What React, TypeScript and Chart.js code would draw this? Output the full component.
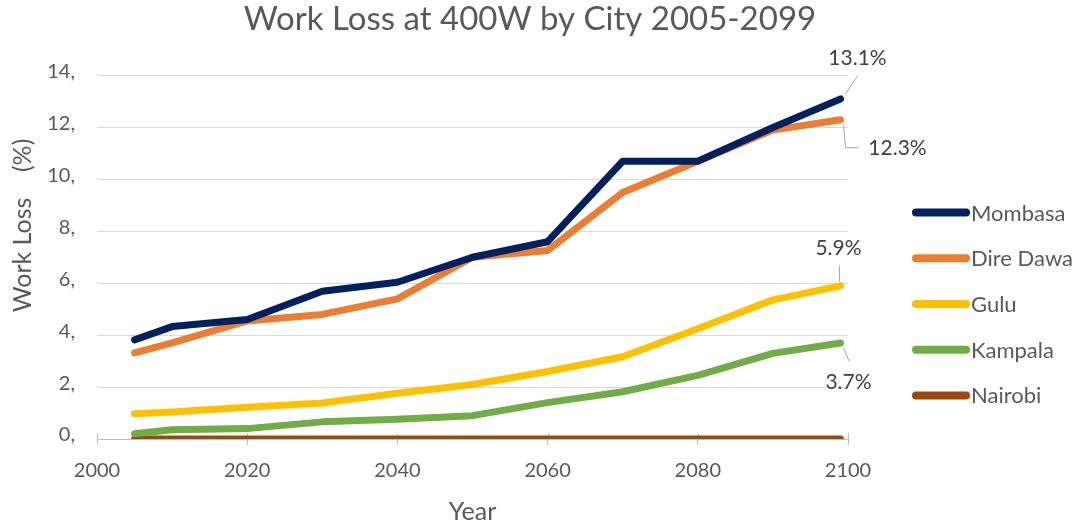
import { useEffect, useRef } from "react";
import { Chart, registerables } from "chart.js";

Chart.register(...registerables);

const years = [2005, 2010, 2020, 2030, 2040, 2050, 2060, 2070, 2080, 2090, 2099];
const mombasa = [3.82, 4.33, 4.6, 5.69, 6.04, 7.0, 7.6, 10.7, 10.7, 12.0, 13.1];
const direDawa = [3.32, 3.7, 4.55, 4.8, 5.4, 7.0, 7.26, 9.5, 10.7, 11.9, 12.3];
const gulu = [0.97, 1.04, 1.22, 1.39, 1.76, 2.1, 2.6, 3.17, 4.25, 5.36, 5.9];
const kampala = [0.2, 0.36, 0.4, 0.66, 0.76, 0.9, 1.4, 1.82, 2.45, 3.3, 3.7];
const nairobi = [0, 0, 0, 0, 0, 0, 0, 0, 0, 0, 0];

const cityNames = ["Mombasa", "Dire Dawa", "Gulu", "Kampala", "Nairobi"];
const cityValues = [mombasa, direDawa, gulu, kampala, nairobi];
const cityColors = ["#002060", "#ED7D31", "#FFC000", "#70AD47", "#9E480E"];
const showEndLabel = [true, true, true, true, false];

const FONT = "Lato, 'Open Sans', sans-serif";
const TEXT = "#595959";

// label style offsets (text center dx/dy, leader polyline) relative to last point
const endLabelStyle = [
  { tx: 17, ty: -41, line: [[5, -5], [17, -23]] },
  { tx: 57, ty: 29, line: [[3, 5], [5, 28], [18, 28]] },
  { tx: -2, ty: -38, line: [[-1, -4], [-1, -20]] },
  { tx: 8, ty: 39, line: [[3, 5], [9, 19]] },
  null,
];

const endLabels = {
  id: "endLabels",
  afterDatasetsDraw(chart: any) {
    const ctx = chart.ctx;
    ctx.save();
    chart.data.datasets.forEach((ds: any, i: number) => {
      if (!showEndLabel[i]) return;
      const st = endLabelStyle[i];
      if (!st) return;
      const meta = chart.getDatasetMeta(i);
      const pt = meta.data[meta.data.length - 1];
      const x = pt.x;
      const y = pt.y;
      ctx.strokeStyle = "#a6a6a6";
      ctx.lineWidth = 1;
      ctx.beginPath();
      st.line.forEach((p: number[], k: number) => {
        if (k === 0) ctx.moveTo(x + p[0], y + p[1]);
        else ctx.lineTo(x + p[0], y + p[1]);
      });
      ctx.stroke();
      const v = ds.data[ds.data.length - 1].y;
      ctx.fillStyle = "#404040";
      ctx.font = `21px ${FONT}`;
      ctx.textAlign = "center";
      ctx.textBaseline = "middle";
      ctx.fillText(v.toFixed(1) + "%", x + st.tx, y + st.ty);
    });
    ctx.restore();
  },
};

const sideLegend = {
  id: "sideLegend",
  afterDraw(chart: any) {
    const ctx = chart.ctx;
    const area = chart.chartArea;
    const x0 = area.right + 68;
    const x1 = area.right + 118;
    const yStart = area.top + 137;
    const step = 45.7;
    ctx.save();
    chart.data.datasets.forEach((ds: any, i: number) => {
      const y = yStart + i * step;
      ctx.strokeStyle = ds.borderColor;
      ctx.lineWidth = 8;
      ctx.lineCap = "round";
      ctx.beginPath();
      ctx.moveTo(x0, y);
      ctx.lineTo(x1, y);
      ctx.stroke();
      ctx.fillStyle = TEXT;
      ctx.font = `22px ${FONT}`;
      ctx.textAlign = "left";
      ctx.textBaseline = "middle";
      ctx.fillText(ds.label, x1 + 5, y + 1);
    });
    ctx.restore();
  },
};

const crossTicks = {
  id: "crossTicks",
  beforeDatasetsDraw(chart: any) {
    const ctx = chart.ctx;
    const xs = chart.scales.x;
    const bottom = chart.chartArea.bottom;
    ctx.save();
    ctx.strokeStyle = "#bfbfbf";
    ctx.lineWidth = 1;
    xs.ticks.forEach((t: any) => {
      const px = Math.round(xs.getPixelForValue(t.value)) + 0.5;
      ctx.beginPath();
      ctx.moveTo(px, bottom - 6);
      ctx.lineTo(px, bottom);
      ctx.stroke();
    });
    ctx.restore();
  },
};

const yTitleLead = "\u00a0".repeat(10);

export default function App() {
  const ref = useRef<HTMLCanvasElement | null>(null);
  useEffect(() => {
    document.body.style.margin = "0";
    const canvas = ref.current;
    if (!canvas) return;
    const chart = new Chart(canvas, {
      type: "line",
      data: {
        datasets: cityNames.map((name, i) => ({
          label: name,
          data: years.map((yr, k) => ({ x: yr, y: cityValues[i][k] })),
          borderColor: cityColors[i],
          backgroundColor: cityColors[i],
          borderWidth: 7,
          borderCapStyle: "round",
          borderJoinStyle: "round",
          pointRadius: 0,
          tension: 0,
          fill: false,
        })),
      },
      options: {
        responsive: false,
        animation: false,
        layout: { padding: { left: 0, right: 18, top: 0, bottom: 0 } },
        plugins: {
          legend: { display: false },
          tooltip: { enabled: false },
          title: {
            display: true,
            text: "Work Loss at 400W by City 2005-2099",
            color: TEXT,
            font: { family: FONT, size: 33, weight: "normal" },
            padding: { top: 0, bottom: 36 },
          },
        },
        scales: {
          x: {
            type: "linear",
            min: 2000,
            max: 2100,
            afterFit: (s: any) => {
              s.height = 88;
            },
            ticks: {
              stepSize: 20,
              color: TEXT,
              font: { family: FONT, size: 20 },
              padding: 14,
              maxRotation: 0,
              callback: (v: any) => String(v),
            },
            grid: {
              drawOnChartArea: false,
              drawTicks: true,
              tickLength: 6,
              color: "#bfbfbf",
            },
            border: { display: true, color: "#bfbfbf" },
            title: {
              display: true,
              text: "Year",
              color: TEXT,
              font: { family: FONT, size: 25 },
              padding: { top: 0, bottom: 0 },
            },
          },
          y: {
            min: 0,
            max: 14,
            afterFit: (s: any) => {
              s.width = 97;
            },
            ticks: {
              stepSize: 2,
              color: TEXT,
              font: { family: FONT, size: 20 },
              padding: 22,
              labelOffset: -4,
              callback: (v: any) => `${v},`,
            },
            grid: { color: "#d9d9d9", drawTicks: false },
            border: { display: false },
            title: {
              display: true,
              text: yTitleLead + "Work Loss\u00a0\u00a0\u00a0\u00a0(%)",
              color: TEXT,
              font: { family: FONT, size: 25 },
              padding: { top: 8, bottom: 0 },
            },
          },
          yRight: {
            type: "linear",
            position: "right",
            display: true,
            grid: { display: false },
            ticks: { display: false },
            border: { display: false },
            afterFit: (s: any) => {
              s.width = 212;
            },
          },
        },
      },
      plugins: [crossTicks, endLabels, sideLegend],
    } as any);
    return () => chart.destroy();
  }, []);
  return (
    <div style={{ width: 1078, height: 527, background: "#fff" }}>
      <canvas ref={ref} width={1078} height={527} />
    </div>
  );
}
